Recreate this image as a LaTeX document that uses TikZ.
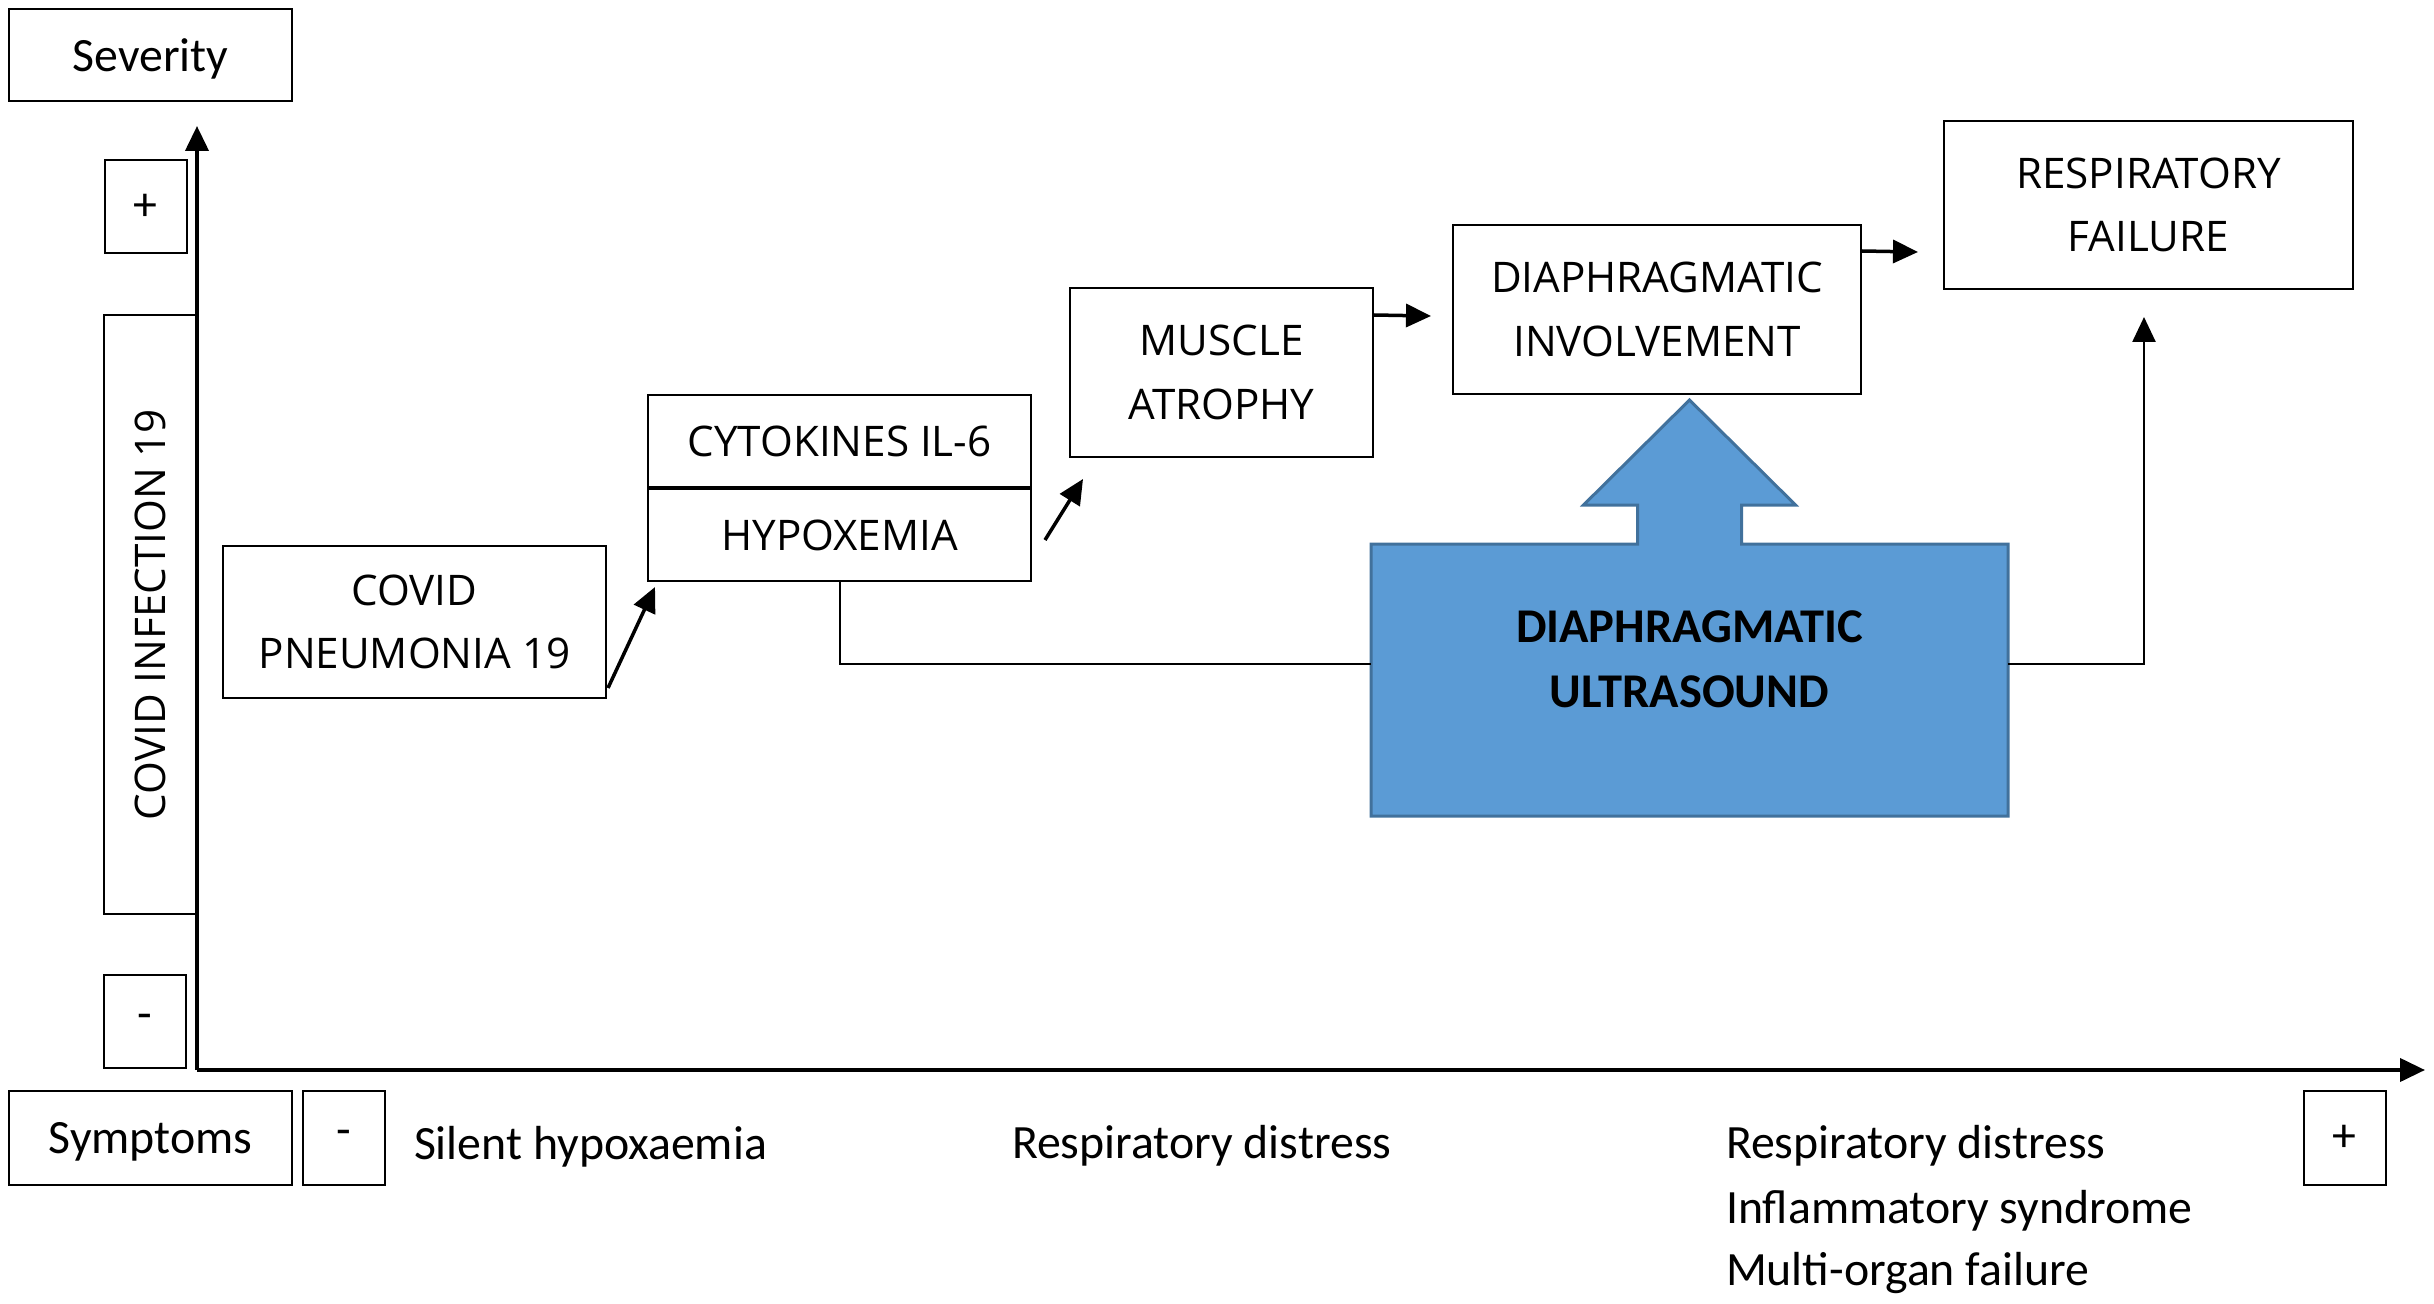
\documentclass[tikz,border=0pt]{standalone}
\usepackage{fontspec}
\setmainfont{Carlito}
\newfontfamily\boxfont{Open Sans}
\usetikzlibrary{positioning,arrows.meta}
\definecolor{usblue}{RGB}{91,155,213}
\definecolor{usedge}{RGB}{65,113,156}
\tikzset{
chart/.style={
    x=0.1mm,
    y=-0.1mm,
    >={Triangle[length=2.5mm,width=2.3mm]},
    line width=0.2mm
},
box/.style={
    draw,
    inner sep=0pt,
    line width=0.2mm,
    align=center,
    font=\boxfont\fontsize{12}{18.1}\selectfont
},
tag/.style={
    box,
    text depth=0pt,
    font=\fontsize{13.6}{18}\selectfont
},
sign/.style={
    tag,
    minimum width=8.2mm,
    minimum height=9.3mm
},
symptom/.style={
    anchor=base west,
    inner sep=0pt,
    font=\fontsize{13.6}{18}\selectfont
},
axis/.style={
    ->,
    line width=0.4mm
},
leads/.style={
    ->,
    line width=0.35mm
},
link/.style={
    line width=0.2mm
},
usshape/.style={
    fill=usblue,
    draw=usedge,
    line width=0.3mm
}}

\begin{document}
\begin{tikzpicture}[chart]
\useasboundingbox (0,0) rectangle (2434,1304);

\coordinate (o)    at (197,1070);
\coordinate (ytip) at (197,126);
\coordinate (xtip) at (2425,1070);

\node[tag, minimum width=28.3mm, minimum height=9.2mm] (sev)  at (150.5,55)    {Severity};
\node[sign]                                           (sevp) at (145.5,207)   {+};
\node[box, rotate=90, minimum width=59.9mm, minimum height=9.2mm] (inf) at (150,614.5) {COVID INFECTION 19};
\node[sign]                                           (sevm) at (145,1021.5)  {-};

\node[tag, minimum width=28.3mm, minimum height=9.4mm] (sym)  at (150.5,1138)  {Symptoms};
\node[sign, minimum height=9.4mm]                     (symm) at (344,1138)    {-};
\node[sign, minimum height=9.4mm]                     (symp) at (2344.5,1138) {+};

\node[symptom] (silent)    at (413,1159)  {Silent hypoxaemia};
\node[symptom] (distress)  at (1011,1158) {Respiratory distress};
\node[symptom] (distress2) at (1725,1158) {Respiratory distress};
\node[symptom] (inflam)    at ([yshift=-6.5mm]distress2.base west) {Inflammatory syndrome};
\node[symptom] (organ)     at ([yshift=-6.2mm]inflam.base west)    {Multi-organ failure};

\node[box, minimum width=38.3mm, minimum height=15.2mm] (pneu)  at (414.5,622)   {COVID\\PNEUMONIA 19};
\node[box, minimum width=38.3mm, minimum height=9.2mm]  (cyto)  at (839.5,441)   {CYTOKINES IL-6};
\node[box, minimum width=38.3mm, minimum height=9.2mm]  (hypo)  [below=0pt of cyto] {HYPOXEMIA};
\node[box, minimum width=30.3mm, minimum height=16.9mm] (musc)  at (1221.5,372.5) {MUSCLE\\ATROPHY};
\node[box, minimum width=40.8mm, minimum height=16.9mm] (diaph) at (1657,309.5)  {DIAPHRAGMATIC\\INVOLVEMENT};
\node[box, minimum width=40.9mm, minimum height=16.8mm] (resp)  at (2148.5,205)  {RESPIRATORY\\FAILURE};

% ultrasound block with its arrow
\node[inner sep=0pt, minimum width=63.5mm, minimum height=27mm] (us) at (1689.5,680) {};
\draw[usshape] (us.south west) -- (us.north west)
    -- ([shift={(-52,0)}]us.north)   -- ([shift={(-52,-39)}]us.north)
    -- ([shift={(-106,-39)}]us.north) -- ([shift={(0,-144)}]us.north)
    -- ([shift={(106,-39)}]us.north) -- ([shift={(52,-39)}]us.north)
    -- ([shift={(52,0)}]us.north)    -- (us.north east)
    -- (us.south east) -- cycle;
\node[inner sep=0pt, align=center, font=\bfseries\fontsize{13.8}{18.5}\selectfont] (ust)
    at ([yshift=2.05mm]us.center) {DIAPHRAGMATIC\\ULTRASOUND};

\path    ([shift={(1,-11)}]pneu.south east)  edge[leads]  ([shift={(8,5)}]hypo.south west);
\path    ([shift={(13,5)}]hypo.east)         edge[leads]  ([shift={(14,21)}]musc.south west);
\path    ([yshift=-2.8mm]musc.north east)    edge[leads]  ([xshift=-2.1mm,yshift=-0.65mm]diaph.west);
\path    ([yshift=-2.7mm]diaph.north east)   edge[leads]  ([xshift=-2.5mm,yshift=-4.7mm]resp.west);

\draw[link]     (hypo.south) |- ([yshift=1.6mm]us.west);
\draw[link, ->, line width=0.25mm] ([yshift=1.6mm]us.east) -| ([xshift=-0.45mm,yshift=-2.7mm]resp.south);

\draw[axis] (o) -- (ytip);
\draw[axis] (o) -- (xtip);
\end{tikzpicture}
\end{document}
